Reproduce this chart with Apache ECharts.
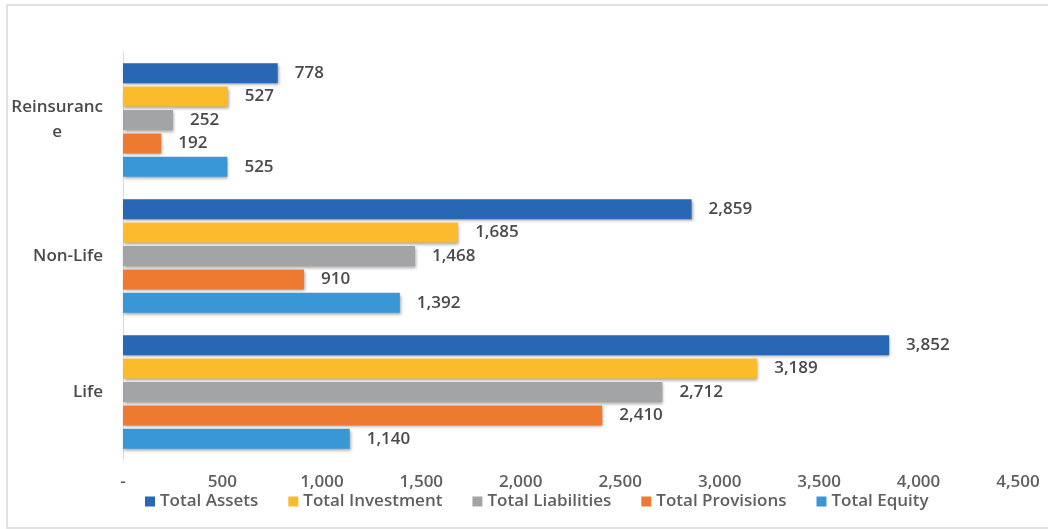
<!DOCTYPE html>
<html>
<head>
<meta charset="utf-8">
<script src="https://cdn.jsdelivr.net/npm/echarts@6/dist/echarts.min.js"></script>
<style>
  html, body { margin: 0; padding: 0; background: #ffffff; }
  #chart { width: 1048px; height: 529px; }
</style>
</head>
<body>
<div id="chart"></div>
<script>
// Categories, bottom to top along the y axis
const categories = ['Life', 'Non-Life', 'Reinsurance'];

// Series values, in category order (Life, Non-Life, Reinsurance)
const totalAssets      = [3852, 2859, 778];
const totalInvestment  = [3189, 1685, 527];
const totalLiabilities = [2712, 1468, 252];
const totalProvisions  = [2410, 910, 192];
const totalEquity      = [1140, 1392, 525];

// Value-axis ticks
const xTicks = [0, 500, 1000, 1500, 2000, 2500, 3000, 3500, 4000, 4500];

const seriesDefs = [
  { name: 'Total Assets',      data: totalAssets,      color: '#2767b3' },
  { name: 'Total Investment',  data: totalInvestment,  color: '#fbbb2a' },
  { name: 'Total Liabilities', data: totalLiabilities, color: '#a3a4a6' },
  { name: 'Total Provisions',  data: totalProvisions,  color: '#ee7a32' },
  { name: 'Total Equity',      data: totalEquity,      color: '#3a97d5' }
];

const FONT = '"Open Sans", "DejaVu Sans", sans-serif';
const WEIGHT = 600;
const fmt = v => v === 0 ? '-' : v.toLocaleString('en-US');

const chart = echarts.init(document.getElementById('chart'), null, { renderer: 'canvas' });

chart.setOption({
  backgroundColor: '#ffffff',
  animation: false,
  graphic: [{
    type: 'rect',
    shape: { x: 7, y: 5, width: 1100, height: 523 },
    style: { fill: 'none', stroke: '#d9d9d9', lineWidth: 1.5 },
    silent: true
  }],
  legend: {
    data: seriesDefs.map(s => s.name),
    left: 140,
    top: 488,
    itemWidth: 10,
    itemHeight: 10,
    itemGap: 30,
    icon: 'rect',
    textStyle: { fontFamily: FONT, fontSize: 17, fontWeight: WEIGHT, color: '#5f5f5f' }
  },
  grid: { left: 123, right: 30, top: 52, bottom: 69, containLabel: false },
  xAxis: {
    type: 'value',
    min: xTicks[0],
    max: xTicks[xTicks.length - 1],
    interval: xTicks[1] - xTicks[0],
    axisLine: { show: false },
    axisTick: { show: false },
    splitLine: { show: false },
    axisLabel: {
      margin: 14,
      fontFamily: FONT, fontSize: 17, fontWeight: WEIGHT, color: '#5f5f5f',
      formatter: fmt
    }
  },
  yAxis: {
    type: 'category',
    data: categories,
    axisLine: { show: true, lineStyle: { color: '#d9d9d9', width: 1 } },
    axisTick: { show: false },
    axisLabel: {
      margin: 20,
      fontFamily: FONT, fontSize: 17, fontWeight: WEIGHT, color: '#4a4a4a',
      lineHeight: 25,
      formatter: v => v === 'Reinsurance' ? '{c|Reinsuranc}\n{c|e}' : v,
      rich: { c: { align: 'center', fontFamily: FONT, fontSize: 17, fontWeight: WEIGHT, color: '#4a4a4a', lineHeight: 25 } }
    }
  },
  series: seriesDefs.map(s => ({
    name: s.name,
    type: 'bar',
    data: s.data,
    barWidth: 20,
    barGap: '17%',
    itemStyle: {
      color: s.color,
      shadowColor: 'rgba(0,0,0,0.35)',
      shadowBlur: 3,
      shadowOffsetX: 1,
      shadowOffsetY: 2
    },
    label: {
      show: true,
      position: 'right',
      distance: 17,
      fontFamily: FONT, fontSize: 17, fontWeight: WEIGHT, color: '#4a4a4a',
      formatter: p => fmt(p.value)
    }
  }))
});
</script>
</body>
</html>
